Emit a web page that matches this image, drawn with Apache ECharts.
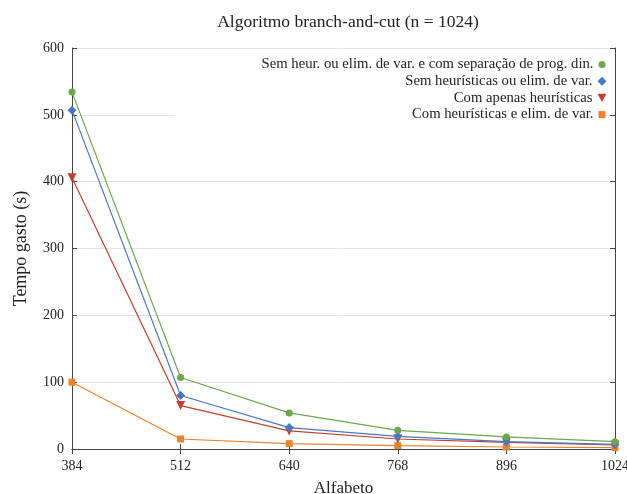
<!DOCTYPE html>
<html>
<head>
<meta charset="utf-8">
<script src="https://cdn.jsdelivr.net/npm/echarts@6/dist/echarts.min.js"></script>
<style>
  html, body { margin: 0; padding: 0; background: #fff; }
  #main { width: 627px; height: 494px; }
</style>
</head>
<body>
<div id="main"></div>
<script>
// alfabeto (eixo x)
var alfabeto = [384, 512, 640, 768, 896, 1024];

// tempos (s) de cada variante
var semHeurDin = [534, 107, 54, 28, 18, 11];
var semHeur = [507, 80, 32, 19, 11, 7];
var apenasHeur = [406, 65, 27, 15, 10, 6];
var heurElim = [100, 15, 8, 5, 3, 2];

var nomes = [
  'Sem heur. ou elim. de var. e com separação de prog. din.',
  'Sem heurísticas ou elim. de var.',
  'Com apenas heurísticas',
  'Com heurísticas e elim. de var.'
];
var cores = ['#6ca64d', '#4a78c0', '#c2412d', '#e8832f'];
var simbolos = ['circle', 'diamond', 'path://M0,0L10,0L5,9Z', 'rect'];
var tamanhos = [7, 9, 9, 7];

var fonte = 'Liberation Serif';

function pares(vals) {
  return alfabeto.map(function (x, i) { return [x, vals[i]]; });
}

var chart = echarts.init(document.getElementById('main'));

var dados = [semHeurDin, semHeur, apenasHeur, heurElim];

var series = dados.map(function (vals, i) {
  return {
    name: nomes[i],
    type: 'line',
    data: pares(vals),
    symbol: simbolos[i],
    symbolSize: tamanhos[i],
    showSymbol: true,
    lineStyle: { width: 1.2, color: cores[i] },
    itemStyle: { color: cores[i] },
    z: 10 - i
  };
});

// uma legenda por linha, alinhadas à direita
var legendas = nomes.map(function (n, i) {
  return {
    data: [{ name: n, icon: simbolos[i] }],
    right: 20.5 + (9 - tamanhos[i]) / 2,
    top: 57 + i * 16.7,
    orient: 'vertical',
    align: 'right',
    padding: 0,
    itemWidth: tamanhos[i],
    itemHeight: tamanhos[i],
    itemGap: 0,
    textStyle: { fontFamily: fonte, fontSize: 14.7, color: '#222' },
    selectedMode: false
  };
});

var option = {
  backgroundColor: '#fff',
  animation: false,
  title: {
    text: 'Algoritmo branch-and-cut (n = 1024)',
    left: 343,
    textAlign: 'center',
    top: 8,
    textStyle: { fontFamily: fonte, fontSize: 17.5, fontWeight: 'normal', color: '#222' }
  },
  legend: legendas,
  grid: { left: 72, right: 12, top: 48, bottom: 45, containLabel: false, outerBoundsMode: 'none' },
  graphic: [{
    type: 'rect',
    z: 1,
    shape: { x: 175, y: 55, width: 428, height: 70 },
    style: { fill: '#fff' }
  }],
  xAxis: [{
    type: 'value',
    min: 384,
    max: 1024,
    interval: 128,
    name: 'Alfabeto',
    nameLocation: 'middle',
    nameGap: 31,
    nameTextStyle: { fontFamily: fonte, fontSize: 17, color: '#222' },
    axisLine: { lineStyle: { color: '#444', width: 1 } },
    axisTick: { inside: true, length: 5, lineStyle: { color: '#444' } },
    axisLabel: {
      fontFamily: fonte, fontSize: 14, color: '#222', margin: 10,
      formatter: function (v) { return String(v); }
    },
    splitLine: { show: false }
  }, {
    type: 'value',
    position: 'top',
    min: 384,
    max: 1024,
    interval: 128,
    axisLine: { lineStyle: { color: '#444', width: 1 } },
    axisTick: { inside: true, length: 5, lineStyle: { color: '#444' } },
    axisLabel: { show: false },
    splitLine: { show: false }
  }],
  yAxis: [{
    type: 'value',
    min: 0,
    max: 600,
    interval: 100,
    name: 'Tempo gasto (s)',
    nameLocation: 'middle',
    nameGap: 42,
    nameTextStyle: { fontFamily: fonte, fontSize: 18, color: '#222' },
    axisLine: { show: true, lineStyle: { color: '#444', width: 1 } },
    axisTick: { show: true, inside: true, length: 5, lineStyle: { color: '#444' } },
    axisLabel: { fontFamily: fonte, fontSize: 14, color: '#222', margin: 8 },
    splitLine: { show: true, lineStyle: { color: '#e3e3e3', width: 1 } }
  }, {
    type: 'value',
    position: 'right',
    min: 0,
    max: 600,
    interval: 100,
    axisLine: { show: true, lineStyle: { color: '#444', width: 1 } },
    axisTick: { show: true, inside: true, length: 5, lineStyle: { color: '#444' } },
    axisLabel: { show: false },
    splitLine: { show: false }
  }],
  series: series
};

chart.setOption(option);
</script>
</body>
</html>
